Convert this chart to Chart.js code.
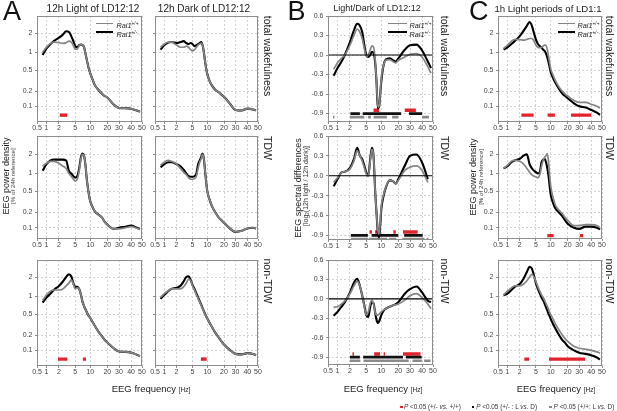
<!DOCTYPE html>
<html><head><meta charset="utf-8">
<script src="https://cdn.jsdelivr.net/npm/chart.js@4.4.1/dist/chart.umd.min.js"></script>
<style>
html,body{margin:0;padding:0;background:#fff;}
#fig{position:relative;width:617px;height:411px;overflow:hidden;background:#fff;font-family:'Liberation Sans',Arial,Helvetica,sans-serif;color:#222;}
#fig canvas{position:absolute;}
.t{position:absolute;white-space:nowrap;}
.sw{position:absolute;}
</style></head><body><div id="fig"></div>
<script>
// ---------------- DATA ----------------
const FREQ = [0.75,1,1.25,1.5,2,2.5,3,3.5,4,4.5,5,5.5,6,6.5,7,7.5,8,8.5,9,9.5,10,11,12,14,16,18,20,25,30,35,40,45,48];
const TICKS_X = [0.5,1,2,5,10,20,30,40,50];
const TICKS_POW = [0.1,0.2,0.5,1,2];
const TICKS_DIFF = [-0.9,-0.6,-0.3,0,0.3,0.6];

// A: 12h light / 12h dark of LD12:12 (EEG power density, % of 24h reference)
const wakeLightWT  = [1.0,1.2,1.38,1.45,1.42,1.38,1.42,1.5,1.45,1.28,1.12,1.12,1.28,1.32,1.3,1.2,0.95,0.75,0.6,0.5,0.43,0.33,0.26,0.21,0.18,0.16,0.15,0.108,0.093,0.092,0.09,0.083,0.078];
const wakeLightMut = [0.9,1.15,1.35,1.5,1.7,1.9,2.15,2.1,1.8,1.5,1.25,1.2,1.3,1.32,1.3,1.2,0.95,0.75,0.6,0.5,0.43,0.33,0.26,0.21,0.18,0.16,0.15,0.108,0.093,0.092,0.09,0.083,0.078];
const wakeDarkWT   = [1.2,1.35,1.45,1.45,1.3,1.2,1.2,1.25,1.2,1.1,1.05,1.1,1.2,1.3,1.35,1.4,1.3,1.0,0.7,0.52,0.42,0.31,0.26,0.21,0.19,0.17,0.155,0.11,0.085,0.083,0.09,0.087,0.083];
const wakeDarkMut  = [1.1,1.3,1.42,1.45,1.4,1.45,1.5,1.4,1.35,1.4,1.35,1.25,1.3,1.35,1.4,1.45,1.3,1.0,0.7,0.52,0.42,0.31,0.26,0.21,0.19,0.17,0.155,0.11,0.085,0.083,0.09,0.087,0.083];
const tdwLightWT   = [1.3,1.45,1.55,1.55,1.45,1.3,1.2,1.0,0.9,0.8,0.75,0.8,1.1,1.7,2.0,1.9,1.35,0.8,0.55,0.4,0.32,0.25,0.21,0.18,0.16,0.13,0.115,0.095,0.095,0.1,0.105,0.098,0.093];
const tdwLightMut  = [1.1,1.4,1.6,1.65,1.65,1.65,1.6,1.1,1.0,0.9,0.85,0.9,1.2,1.8,2.05,1.9,1.35,0.8,0.55,0.4,0.32,0.25,0.21,0.18,0.16,0.13,0.115,0.095,0.1,0.105,0.11,0.1,0.095];
const tdwDarkWT    = [1.35,1.5,1.6,1.55,1.4,1.2,1.05,0.95,0.85,0.8,0.8,0.82,0.9,1.2,1.5,1.7,2.0,1.7,1.1,0.7,0.5,0.35,0.27,0.2,0.16,0.14,0.125,0.095,0.083,0.087,0.097,0.1,0.097];
const tdwDarkMut   = [1.25,1.4,1.5,1.5,1.4,1.3,1.15,1.0,0.9,0.88,0.88,0.9,1.0,1.4,1.6,1.8,2.05,1.7,1.1,0.7,0.5,0.35,0.27,0.2,0.16,0.14,0.125,0.095,0.083,0.087,0.097,0.1,0.097];
const ntdwLightWT  = [0.85,1.05,1.2,1.25,1.25,1.3,1.45,1.6,1.8,1.55,1.3,1.35,1.3,1.05,0.8,0.68,0.6,0.54,0.48,0.45,0.42,0.35,0.3,0.23,0.19,0.16,0.143,0.11,0.095,0.093,0.09,0.082,0.077];
const ntdwLightMut = [0.78,0.95,1.1,1.25,1.45,1.7,2.0,2.2,2.05,1.6,1.4,1.4,1.3,1.05,0.8,0.68,0.6,0.54,0.48,0.45,0.42,0.35,0.3,0.23,0.19,0.16,0.143,0.11,0.095,0.093,0.09,0.082,0.077];
const ntdwDarkWT   = [0.95,1.1,1.22,1.3,1.3,1.3,1.4,1.6,1.85,1.75,1.45,1.25,1.05,0.92,0.8,0.7,0.62,0.55,0.49,0.45,0.41,0.34,0.29,0.22,0.18,0.15,0.13,0.1,0.085,0.083,0.088,0.085,0.08];
const ntdwDarkMut  = [0.9,1.05,1.2,1.3,1.35,1.45,1.7,2.0,2.05,1.8,1.5,1.3,1.1,0.95,0.82,0.72,0.63,0.56,0.5,0.45,0.41,0.34,0.29,0.22,0.18,0.15,0.13,0.1,0.085,0.083,0.088,0.085,0.08];

// B: Light/Dark of LD12:12 (log2 12h light / 12h dark)
const ldWakeWT  = [-0.22,-0.12,-0.05,0.0,0.15,0.3,0.4,0.35,0.25,0.1,-0.02,0.0,0.08,0.14,0.12,-0.05,-0.4,-0.78,-0.8,-0.6,-0.35,-0.15,-0.08,-0.07,-0.1,-0.12,-0.08,-0.03,0.01,0.02,-0.03,-0.18,-0.28];
const ldWakeMut = [-0.32,-0.2,-0.1,0.0,0.2,0.38,0.48,0.45,0.35,0.15,0.0,-0.03,0.0,0.05,0.03,-0.1,-0.4,-0.82,-0.8,-0.6,-0.4,-0.15,-0.07,-0.05,-0.08,-0.1,-0.05,0.08,0.15,0.16,0.07,-0.1,-0.2];
const ldTdwWT   = [-0.1,-0.03,0.05,0.06,0.1,0.22,0.38,0.3,0.22,0.12,0.03,0.0,0.22,0.4,0.3,-0.2,-0.55,-0.82,-0.88,-0.7,-0.45,-0.28,-0.17,-0.07,-0.08,-0.12,-0.07,0.08,0.13,0.15,0.08,-0.1,null];
const ldTdwMut  = [-0.16,-0.05,0.05,0.06,0.12,0.25,0.42,0.3,0.25,0.15,0.05,0.0,0.25,0.42,0.3,-0.2,-0.55,-0.85,-0.93,-0.75,-0.5,-0.3,-0.18,-0.07,-0.08,-0.12,-0.05,0.15,0.3,0.32,0.2,-0.05,null];
const ldNtdwWT  = [-0.13,-0.12,-0.08,-0.03,0.08,0.2,0.27,0.2,0.05,-0.12,-0.25,-0.2,-0.07,-0.02,-0.08,-0.2,-0.25,-0.25,-0.24,-0.22,-0.2,-0.17,-0.15,-0.12,-0.1,-0.09,-0.08,-0.02,0.05,0.08,0.02,-0.08,-0.15];
const ldNtdwMut = [-0.26,-0.2,-0.12,-0.05,0.1,0.25,0.31,0.2,0.05,-0.1,-0.25,-0.28,-0.12,-0.05,-0.07,-0.2,-0.32,-0.37,-0.35,-0.3,-0.25,-0.18,-0.15,-0.12,-0.1,-0.08,-0.05,0.08,0.15,0.19,0.1,-0.03,-0.05];

// C: 1h light periods of LD1:1
const ld11WakeWT  = [1.15,1.3,1.5,1.6,1.58,1.55,1.6,1.65,1.65,1.5,1.3,1.2,1.18,1.2,1.25,1.3,1.28,1.1,0.85,0.65,0.52,0.4,0.32,0.24,0.2,0.175,0.16,0.13,0.12,0.12,0.11,0.1,0.093];
const ld11WakeMut = [1.1,1.2,1.35,1.5,1.8,2.2,2.6,3.0,2.6,2.0,1.6,1.35,1.25,1.2,1.1,1.05,0.95,0.82,0.68,0.55,0.45,0.35,0.29,0.22,0.18,0.16,0.145,0.115,0.1,0.095,0.085,0.075,0.068];
const ld11TdwWT   = [1.2,1.35,1.55,1.6,1.55,1.4,1.2,1.05,0.95,0.9,0.88,0.85,0.95,1.3,1.6,1.8,1.9,2.05,1.5,0.9,0.6,0.38,0.28,0.22,0.19,0.16,0.14,0.11,0.11,0.115,0.115,0.11,0.1];
const ld11TdwMut  = [1.2,1.3,1.5,1.6,1.7,1.9,2.0,1.4,1.2,1.1,1.05,1.0,1.05,1.5,1.65,1.7,1.5,1.2,0.9,0.6,0.42,0.3,0.24,0.2,0.17,0.14,0.12,0.1,0.095,0.105,0.105,0.1,0.093];
const ld11NtdwWT  = [1.05,1.2,1.35,1.45,1.45,1.55,1.75,2.0,2.2,2.0,1.7,1.4,1.2,1.05,0.95,0.85,0.75,0.67,0.6,0.53,0.48,0.4,0.33,0.25,0.2,0.17,0.15,0.12,0.11,0.105,0.1,0.093,0.088];
const ld11NtdwMut = [1.03,1.1,1.25,1.4,1.55,1.9,2.4,2.9,2.7,2.1,1.6,1.3,1.1,0.95,0.85,0.75,0.65,0.57,0.5,0.45,0.4,0.32,0.27,0.2,0.16,0.14,0.12,0.1,0.09,0.085,0.08,0.072,0.066];

// Significance ranges [from Hz, to Hz]
const sigWakeLightRed = [[2.1,3.2]];
const sigNtdwLightRed = [[1.9,3.2],[7.1,8.2]];
const sigNtdwDarkRed  = [[7.4,9.7]];
const sigLdWakeRed = [[7.0,9.0],[25,34.5]];
const sigLdWakeMut = [[2.05,3.5],[4.1,22],[29,40]];
const sigLdWakeWT  = [[0.72,0.8],[2.0,4.5],[5.4,6.2],[7.0,12.5],[15.5,20],[40,46]];
const sigLdTdwRed = [[5.8,6.5],[7.5,8.6],[16.3,18],[23.5,36]];
const sigLdTdwMut = [[2.1,5.4],[6.4,20],[24.5,40.5]];
const sigLdTdwWT  = [[2.1,5.4],[5.6,12.8],[13.7,18.4],[23,42],[44,45.5]];
const sigLdNtdwRed = [[2.3,2.5],[7.2,9.4],[11,11.6],[23.5,38.5]];
const sigLdNtdwMut = [[2.0,3.5],[4.2,23.5],[26,39.6]];
const sigLdNtdwWT  = [[2.0,3.6],[4.3,28.7],[31.9,39.8],[41.7,47.6]];
const sigLd11WakeRed = [[2.2,4.4],[8.6,11.8],[22.5,40]];
const sigLd11TdwRed  = [[8.5,11.2],[30.5,33]];
const sigLd11NtdwRed = [[2.6,3.4],[9.2,34.5]];

// ---------------- AXIS / LAYOUT ----------------
const SIG_Y = {pow:0.067, powMid:0.07, red:-0.85, mut:-0.9, wt:-0.955};
const WARP = {
  freq:{v:[0.5,1,2,5,10,20,30,40,50], t:[0,0.091,0.209,0.364,0.508,0.67,0.781,0.896,1]},
  pow:{v:[0.1,0.2,0.5,1,2], t:[0,15.2,36.2,54,73.1]}
};
const TICKSETS = {freq:TICKS_X, pow:TICKS_POW};
const COLS = {A1:[37,142], A2:[155,258], B:[328,433], C:[498,602]};
const ROWS = [[16,122],[136,239],[260,366]];
const ROWS_B = [[16,122],[136,240],[260,365]];
const POW_RANGE = [[0.049,3.73],[0.06,3.87],[0.049,3.7]];
const DIFF_RANGE = [[-1.03,0.6],[-0.97,0.6],[-1.02,0.6]];

function warpV(v, W){
  const L = Math.log10(v), V = W.v.map(Math.log10), T = W.t;
  let i = 0;
  if (L >= V[V.length-1]) i = V.length-2;
  else if (L > V[0]) { while (L > V[i+1]) i++; }
  return T[i] + (T[i+1]-T[i])*(L-V[i])/(V[i+1]-V[i]);
}
function unwarpV(t, W){
  const V = W.v.map(Math.log10), T = W.t;
  let i = 0;
  if (t >= T[T.length-1]) i = T.length-2;
  else if (t > T[0]) { while (t > T[i+1]) i++; }
  return Math.pow(10, V[i] + (V[i+1]-V[i])*(t-T[i])/(T[i+1]-T[i]));
}

class WarpScale extends Chart.Scale {
  static id = 'warp';
  static defaults = {};
  determineDataLimits(){ this.min = this.options.min; this.max = this.options.max; }
  buildTicks(){ return TICKSETS[this.options.warp].map(v=>({value:v})); }
  configure(){ super.configure(); const W = WARP[this.options.warp]; this._t0 = warpV(this.min, W); this._t1 = warpV(this.max, W); }
  getPixelForValue(v){
    if (v === null || v === undefined || isNaN(v)) return NaN;
    const W = WARP[this.options.warp];
    return this.getPixelForDecimal((warpV(v, W)-this._t0)/(this._t1-this._t0));
  }
  getValueForPixel(p){ const d = this.getDecimalForPixel(p); return unwarpV(this._t0 + d*(this._t1-this._t0), WARP[this.options.warp]); }
  getLabelForValue(v){ return String(v); }
}
Chart.register(WarpScale);
Chart.defaults.font.family = "'Liberation Sans', Arial, sans-serif";
Chart.defaults.color = '#444';

const framePlugin = {
  id:'frame',
  afterDatasetsDraw(chart){
    const {ctx, chartArea:a} = chart;
    ctx.save(); ctx.strokeStyle = '#8c8c8c'; ctx.lineWidth = 1;
    ctx.strokeRect(Math.round(a.left)+0.5, Math.round(a.top)+0.5, Math.round(a.right-a.left)-1, Math.round(a.bottom-a.top)-1);
    ctx.restore();
  }
};

const fig = document.getElementById('fig');

function barSet(segs, y, color, w){
  const d = [];
  segs.forEach(([a,b]) => { d.push({x:a,y:y},{x:b,y:y},{x:b,y:null}); });
  return {data:d, borderColor:color, borderWidth:w, borderCapStyle:'butt', tension:0, spanGaps:false, pointRadius:0};
}

function makePanel(p){
  const [l, r] = COLS[p.c];
  const [t, b] = (p.k === 'diff' ? ROWS_B : ROWS)[p.r];
  const ML = 26, MT = 5, MR = 9, MB = 15;
  const W = r - l + ML + MR, H = b - t + MT + MB;
  const cv = document.createElement('canvas');
  cv.width = W; cv.height = H;
  cv.style.left = (l-ML)+'px'; cv.style.top = (t-MT)+'px';
  cv.style.width = W+'px'; cv.style.height = H+'px';
  fig.appendChild(cv);
  const pts = arr => FREQ.map((f,i)=>({x:f, y:arr[i]}));
  const ds = [];
  if (p.k === 'diff') ds.push({data:[{x:TICKS_X[0],y:0},{x:TICKS_X[TICKS_X.length-1],y:0}], borderColor:'#000', borderWidth:1.1, tension:0, pointRadius:0});
  ds.push({data:pts(p.wt), borderColor:'#848484', borderWidth:1.7, cubicInterpolationMode:'monotone', pointRadius:0, spanGaps:false});
  ds.push({data:pts(p.mut), borderColor:'#000', borderWidth:2.1, cubicInterpolationMode:'monotone', pointRadius:0, spanGaps:false});
  if (p.sw) ds.push(barSet(p.sw, SIG_Y.wt, '#8a8a8a', 2.6));
  if (p.sm) ds.push(barSet(p.sm, SIG_Y.mut, '#111', 2.8));
  if (p.red) ds.push(barSet(p.red, p.k==='diff' ? SIG_Y.red : (p.r===1 ? SIG_Y.powMid : SIG_Y.pow), '#e3232b', 3.4));
  const grid = {color:'#d3d3d3', lineWidth:1, drawTicks:true, tickLength:2, tickColor:'#8c8c8c'};
  const border = {display:false, dash:[2,2]};
  const xScale = {type:'warp', warp:'freq', min:TICKS_X[0], max:TICKS_X[TICKS_X.length-1], position:'bottom',
    grid:grid, border:border,
    ticks:{font:{size:7}, color:'#444', padding:0, autoSkip:false, maxRotation:0, minRotation:0},
    afterFit: s => { s.height = MB; s.paddingLeft = 0; s.paddingRight = 0; }};
  let yScale;
  if (p.k === 'diff'){
    const [mn, mx] = DIFF_RANGE[p.r];
    yScale = {type:'linear', min:mn, max:mx, position:'left', grid:grid, border:border,
      afterBuildTicks: s => { s.ticks = TICKS_DIFF.map(v=>({value:v})); },
      ticks:{display:p.yl, font:{size:7}, color:'#444', padding:2.5, callback: v => Number(v).toFixed(1)},
      afterFit: s => { s.width = ML; s.paddingTop = 0; s.paddingBottom = 0; }};
  } else {
    const [mn, mx] = POW_RANGE[p.r];
    yScale = {type:'warp', warp:'pow', min:mn, max:mx, position:'left', grid:grid, border:border,
      ticks:{display:p.yl, font:{size:7}, color:'#444', padding:2.5},
      afterFit: s => { s.width = ML; s.paddingTop = 0; s.paddingBottom = 0; }};
  }
  new Chart(cv, {
    type:'line',
    data:{datasets:ds},
    options:{
      responsive:false, animation:false, events:[],
      layout:{padding:{left:0, top:MT, right:MR, bottom:0}},
      parsing:true,
      elements:{point:{radius:0}},
      scales:{x:xScale, y:yScale},
      plugins:{legend:{display:false}, tooltip:{enabled:false}}
    },
    plugins:[framePlugin]
  });
}

const PANELS = [
  {c:'A1', r:0, k:'pow', wt:wakeLightWT, mut:wakeLightMut, red:sigWakeLightRed, yl:true},
  {c:'A2', r:0, k:'pow', wt:wakeDarkWT, mut:wakeDarkMut, yl:false},
  {c:'A1', r:1, k:'pow', wt:tdwLightWT, mut:tdwLightMut, yl:true},
  {c:'A2', r:1, k:'pow', wt:tdwDarkWT, mut:tdwDarkMut, yl:false},
  {c:'A1', r:2, k:'pow', wt:ntdwLightWT, mut:ntdwLightMut, red:sigNtdwLightRed, yl:true},
  {c:'A2', r:2, k:'pow', wt:ntdwDarkWT, mut:ntdwDarkMut, red:sigNtdwDarkRed, yl:false},
  {c:'B', r:0, k:'diff', wt:ldWakeWT, mut:ldWakeMut, red:sigLdWakeRed, sm:sigLdWakeMut, sw:sigLdWakeWT, yl:true},
  {c:'B', r:1, k:'diff', wt:ldTdwWT, mut:ldTdwMut, red:sigLdTdwRed, sm:sigLdTdwMut, sw:sigLdTdwWT, yl:true},
  {c:'B', r:2, k:'diff', wt:ldNtdwWT, mut:ldNtdwMut, red:sigLdNtdwRed, sm:sigLdNtdwMut, sw:sigLdNtdwWT, yl:true},
  {c:'C', r:0, k:'pow', wt:ld11WakeWT, mut:ld11WakeMut, red:sigLd11WakeRed, yl:true},
  {c:'C', r:1, k:'pow', wt:ld11TdwWT, mut:ld11TdwMut, red:sigLd11TdwRed, yl:true},
  {c:'C', r:2, k:'pow', wt:ld11NtdwWT, mut:ld11NtdwMut, red:sigLd11NtdwRed, yl:true}
];
PANELS.forEach(makePanel);

// ---------------- TEXT ----------------
function txt(html, x, base, fs, align, extra){
  const d = document.createElement('div'); d.className = 't'; d.innerHTML = html;
  d.style.fontSize = fs+'px'; d.style.lineHeight = fs+'px';
  d.style.top = (base - 0.8465*fs)+'px'; d.style.left = x+'px';
  if (align === 'center') d.style.transform = 'translateX(-50%)';
  if (extra) Object.assign(d.style, extra);
  fig.appendChild(d); return d;
}
function rotC(html, xc, yc, fs, deg, extra){
  const d = document.createElement('div'); d.className = 't'; d.innerHTML = html;
  d.style.fontSize = fs+'px'; d.style.lineHeight = fs+'px';
  d.style.left = xc+'px'; d.style.top = yc+'px';
  d.style.transform = 'translate(-50%,-50%) rotate('+deg+'deg)';
  if (extra) Object.assign(d.style, extra);
  fig.appendChild(d); return d;
}
function rowLabel(text, xc, ytop){
  const d = rotC(text, xc, 0, 10.5, 90, {color:'#222'});
  const w = d.offsetWidth; d.style.top = (ytop + w/2)+'px';
}
function box(x, y, w, h, color){
  const d = document.createElement('div'); d.className = 'sw';
  Object.assign(d.style, {left:x+'px', top:y+'px', width:w+'px', height:h+'px', background:color});
  fig.appendChild(d);
}

// panel letters
txt('A', 3, 21.3, 27, null, {color:'#111'});
txt('B', 287.5, 21.3, 27, null, {color:'#111'});
txt('C', 469, 21.3, 27, null, {color:'#111'});
// titles
txt('12h Light of LD12:12', 93, 12, 10, 'center');
txt('12h Dark of LD12:12', 204, 12, 10, 'center');
txt('Light/Dark of LD12:12', 377, 12, 9, 'center');
txt('1h Light periods of LD1:1', 548, 12, 9.6, 'center');
// row labels
[[267.5],[445],[610]].forEach(([x]) => {
  rowLabel('total wakefulness', x, 15);
  rowLabel('TDW', x, 136);
  rowLabel('non-TDW', x, 258);
});
// y titles
rotC('EEG power density', 6, 176, 9, -90, {color:'#222'});
rotC('[% of 24h reference]', 13, 176, 6.2, -90, {color:'#333'});
rotC('EEG spectral differences', 298, 188, 9, -90, {color:'#222'});
rotC('[log<sub style="font-size:4.5px;vertical-align:-1px">2</sub>(12h light / 12h dark)]', 306, 186, 7, -90, {color:'#333'});
rotC('EEG power density', 473, 177, 9, -90, {color:'#222'});
rotC('[% of 24h reference]', 480.5, 177, 6.2, -90, {color:'#333'});
// x titles
[151, 383, 556].forEach(x => txt('EEG frequency <span style="font-size:6.5px">[Hz]</span>', x, 392, 9.5, 'center', {color:'#222'}));
// in-panel legends
[[95.5,113.3,116.5],[388,407,409.5],[558,575,577.5]].forEach(([a,b,tx]) => {
  box(a, 22.5, b-a, 1.6, '#848484');
  box(a, 31.2, b-a, 2.1, '#000');
  txt('<i>Rai1</i><span style="font-size:4.8px;vertical-align:3px">+/+</span>', tx, 26, 7.3, null, {color:'#222'});
  txt('<i>Rai1</i><span style="font-size:4.8px;vertical-align:3px">+/-</span>', tx, 35, 7.3, null, {color:'#222'});
});
// bottom legend
box(400, 405.5, 2.8, 2.8, '#e3232b');
txt('<i>P</i> &lt;0.05 (+/- <i>vs.</i> +/+)', 404, 409.3, 6.4, null, {color:'#333'});
box(471.6, 405.5, 2.8, 2.8, '#111');
txt('<i>P</i> &lt;0.05 (+/- : L <i>vs.</i> D)', 476.2, 409.3, 6.4, null, {color:'#333'});
box(549.2, 405.5, 2.8, 2.8, '#8a8a8a');
txt('<i>P</i> &lt;0.05 (+/+: L <i>vs.</i> D)', 553.6, 409.3, 6.4, null, {color:'#333'});
</script></body></html>
